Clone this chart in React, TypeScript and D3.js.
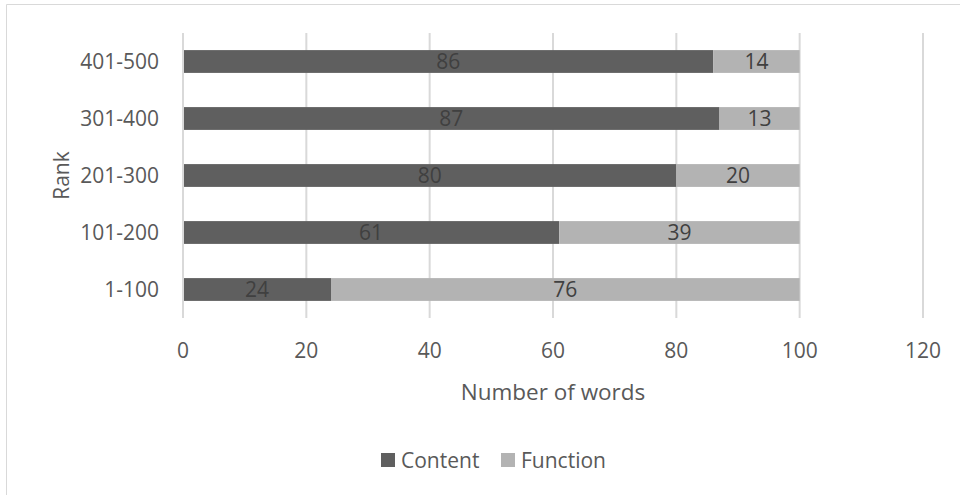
import React, { useEffect, useRef } from "react";
import * as d3 from "d3";

const ranks = ["1-100", "101-200", "201-300", "301-400", "401-500"];
const contentWords = [24, 61, 80, 87, 86];
const functionWords = [76, 39, 20, 13, 14];
const xTicks = [0, 20, 40, 60, 80, 100, 120];
const seriesNames = ["Content", "Function"];
const seriesColors = ["#5f5f5f", "#b3b3b3"];

const FONT = "'Open Sans', sans-serif";

const App = () => {
  const ref = useRef<SVGSVGElement>(null);

  useEffect(() => {
    const svg = d3.select(ref.current);
    svg.selectAll("*").remove();

    const width = 960;
    const height = 495;
    const plot = { left: 183, right: 923, top: 33, bottom: 318 };

    // outer chart border (only top and left show in the picture)
    svg
      .append("path")
      .attr("d", `M6.5,${height} V4.5 H${width}`)
      .attr("fill", "none")
      .attr("stroke", "#d9d9d9");

    const x = d3.scaleLinear().domain([0, 120]).range([plot.left, plot.right]);
    const y = d3
      .scaleBand()
      .domain(ranks.slice().reverse())
      .range([plot.top, plot.bottom])
      .paddingInner(0.6)
      .paddingOuter(0.3);

    // gridlines
    svg
      .append("g")
      .selectAll("line")
      .data(xTicks)
      .join("line")
      .attr("x1", (d) => x(d))
      .attr("x2", (d) => x(d))
      .attr("y1", plot.top)
      .attr("y2", plot.bottom)
      .attr("stroke", "#d9d9d9")
      .attr("stroke-width", 2);

    const stacked = d3
      .stack<number>()
      .keys(["0", "1"])
      .value((i, k) => (k === "0" ? contentWords[i] : functionWords[i]))(
      d3.range(ranks.length)
    );

    stacked.forEach((layer, si) => {
      const g = svg.append("g");
      g.selectAll("rect")
        .data(layer)
        .join("rect")
        .attr("x", (d) => x(d[0]))
        .attr("width", (d) => x(d[1]) - x(d[0]))
        .attr("y", (d) => y(ranks[d.data])!)
        .attr("height", y.bandwidth())
        .attr("fill", seriesColors[si]);
      g.selectAll("text")
        .data(layer)
        .join("text")
        .attr("x", (d) => x((d[0] + d[1]) / 2))
        .attr("y", (d) => y(ranks[d.data])! + y.bandwidth() / 2)
        .attr("dy", "0.36em")
        .attr("text-anchor", "middle")
        .attr("font-family", FONT)
        .attr("font-size", 21)
        .attr("fill", "#404040")
        .text((d) => d[1] - d[0]);
    });

    // y axis line
    svg
      .append("line")
      .attr("x1", plot.left)
      .attr("x2", plot.left)
      .attr("y1", plot.top)
      .attr("y2", plot.bottom)
      .attr("stroke", "#d9d9d9")
      .attr("stroke-width", 2);

    // category labels
    svg
      .append("g")
      .selectAll("text")
      .data(ranks)
      .join("text")
      .attr("x", plot.left - 24)
      .attr("y", (d) => y(d)! + y.bandwidth() / 2)
      .attr("dy", "0.36em")
      .attr("text-anchor", "end")
      .attr("font-family", FONT)
      .attr("font-size", 21)
      .attr("fill", "#595959")
      .text((d) => d);

    // x tick labels
    svg
      .append("g")
      .selectAll("text")
      .data(xTicks)
      .join("text")
      .attr("x", (d) => x(d))
      .attr("y", 350)
      .attr("dy", "0.36em")
      .attr("text-anchor", "middle")
      .attr("font-family", FONT)
      .attr("font-size", 21)
      .attr("fill", "#595959")
      .text((d) => d);

    // axis titles
    svg
      .append("text")
      .attr("x", (plot.left + plot.right) / 2)
      .attr("y", 392)
      .attr("dy", "0.36em")
      .attr("text-anchor", "middle")
      .attr("font-family", FONT)
      .attr("font-size", 22.5)
      .attr("fill", "#595959")
      .text("Number of words");

    svg
      .append("text")
      .attr("transform", `translate(61,${(plot.top + plot.bottom) / 2}) rotate(-90)`)
      .attr("dy", "0.36em")
      .attr("text-anchor", "middle")
      .attr("font-family", FONT)
      .attr("font-size", 21)
      .attr("fill", "#595959")
      .text("Rank");

    // legend
    const legendX = [381, 501];
    const legend = svg
      .append("g")
      .selectAll("g")
      .data(seriesNames)
      .join("g")
      .attr("transform", (d, i) => `translate(${legendX[i]},453)`);
    legend
      .append("rect")
      .attr("width", 14)
      .attr("height", 14)
      .attr("fill", (d, i) => seriesColors[i]);
    legend
      .append("text")
      .attr("x", 20)
      .attr("y", 7)
      .attr("dy", "0.36em")
      .attr("font-family", FONT)
      .attr("font-size", 21)
      .attr("fill", "#595959")
      .text((d) => d);
  }, []);

  return (
    <svg
      ref={ref}
      width={960}
      height={495}
      style={{ position: "absolute", left: 0, top: 0, background: "#fff" }}
    />
  );
};

export default App;
